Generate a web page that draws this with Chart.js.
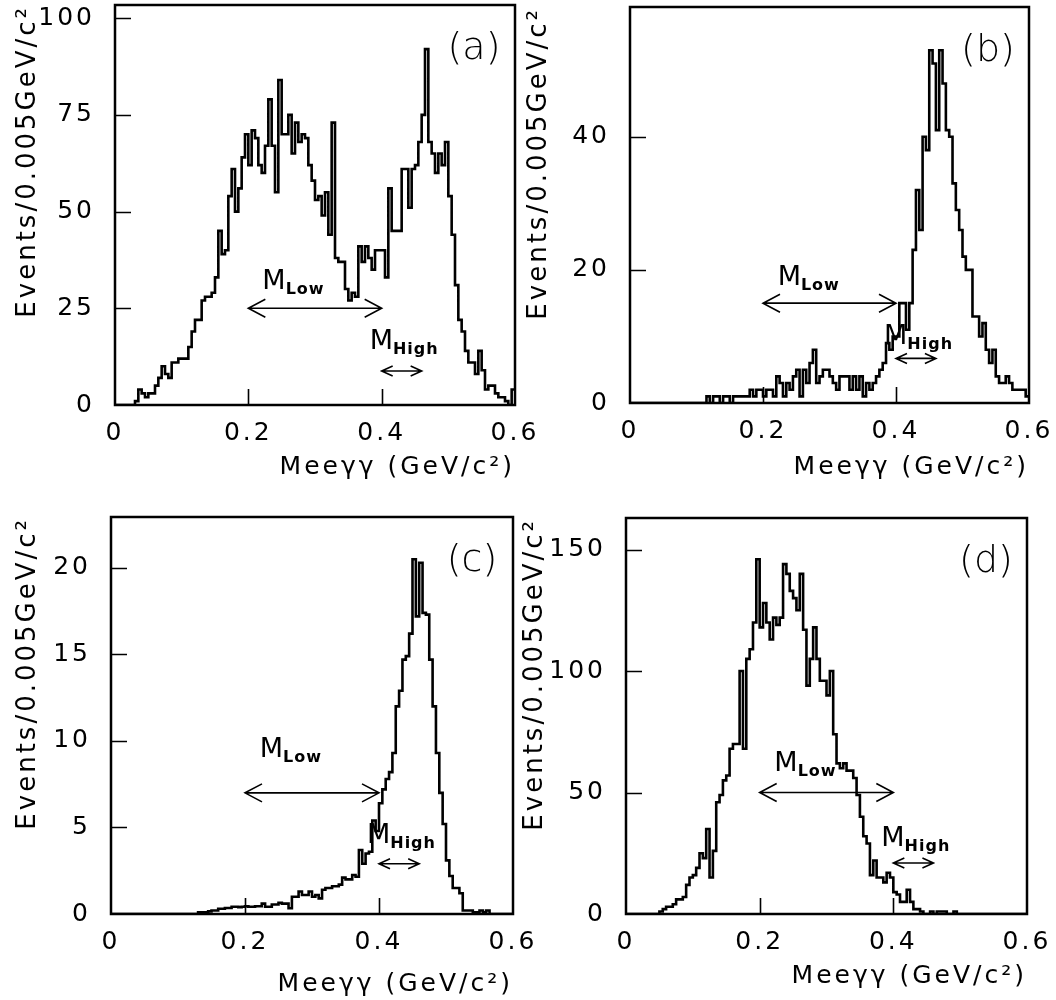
<!DOCTYPE html>
<html>
<head>
<meta charset="utf-8">
<script src="https://cdn.jsdelivr.net/npm/chart.js@4.4.1/dist/chart.umd.min.js"></script>
<style>
  html, body { margin: 0; padding: 0; background: #fff; }
  #wrap { position: relative; width: 1056px; height: 1000px; overflow: hidden; }
  canvas { position: absolute; }
</style>
</head>
<body>
<div id="wrap">
  <canvas id="panelA" width="560" height="500" style="left:0px;top:0px"></canvas>
  <canvas id="panelB" width="556" height="500" style="left:500px;top:0px"></canvas>
  <canvas id="panelC" width="560" height="500" style="left:0px;top:500px"></canvas>
  <canvas id="panelD" width="556" height="500" style="left:500px;top:500px"></canvas>
</div>
<script>
// bins of 0.005 GeV/c^2 from 0 to 0.6
const binWidth = 0.005;
const xTicks = [0, 0.2, 0.4, 0.6];

const countsA = [
  0, 0, 0, 0, 0, 0,   1, 4, 3, 2, 3, 3,   5, 7, 10, 8, 7, 11,
  11, 12, 12, 12, 15, 19,   22, 22, 27, 28, 28, 29,   33, 45, 39, 40, 54, 61,
  50, 56, 64, 70, 62, 71,   69, 62, 60, 67, 79, 67,   55, 84, 70, 70, 75, 65,
  73, 68, 70, 69, 62, 58,   53, 54, 49, 55, 44, 73,   38, 37, 37, 30, 27, 29,
  28, 41, 37, 41, 38, 35,   40, 40, 40, 33, 56, 45,   45, 45, 61, 61, 51, 61,
  62, 68, 75, 92, 68, 65,   60, 65, 62, 68, 54, 44,   31, 22, 19, 14, 11, 11,
  8, 14, 9, 4, 5, 5,   3, 2, 2, 1, 0, 4
];
const countsB = [
  0, 0, 0, 0, 0, 0,   0, 0, 0, 0, 0, 0,   0, 0, 0, 0, 0, 0,
  0, 0, 0, 0, 0, 1,   0, 1, 1, 0, 1, 1,   0, 1, 1, 1, 1, 1,
  2, 1, 2, 2, 1, 2,   2, 1, 4, 3, 1, 3,   2, 4, 5, 1, 5, 3,
  6, 8, 3, 4, 5, 5,   4, 3, 2, 4, 4, 4,   2, 4, 2, 4, 1, 3,
  2, 3, 4, 5, 6, 9,   8, 10, 10, 15, 15, 11,   15, 23, 32, 26, 40, 38,
  53, 51, 41, 53, 48, 41,   40, 33, 29, 26, 22, 20,   20, 13, 13, 10, 12, 8,
  6, 8, 4, 3, 3, 4,   3, 2, 2, 2, 2, 1
];
const countsC = [
  0, 0, 0, 0, 0, 0,   0, 0, 0, 0, 0, 0,   0, 0, 0, 0, 0, 0,
  0, 0, 0, 0, 0, 0,   0, 0, 0.1, 0.1, 0.1, 0.15,   0.2, 0.2, 0.3, 0.3, 0.35, 0.35,
  0.42, 0.42, 0.4, 0.42, 0.45, 0.42,   0.42, 0.45, 0.45, 0.6, 0.42, 0.42,   0.55, 0.55, 0.65, 0.6, 0.6, 0.33,
  1.0, 1.0, 1.3, 1.1, 1.1, 1.3,   1.0, 1.1, 0.9, 1.4, 1.5, 1.5,   1.6, 1.6, 1.7, 2.1, 2.0, 2.0,
  2.25, 2.15, 3.7, 2.9, 3.5, 3.6,   5.4, 4.8, 6.4, 7.2, 7.8, 8.2,   9.3, 12, 12.9, 14.7, 14.9, 16.2,
  20.5, 17.2, 20.3, 17.4, 17.3, 14.7,   12, 9.3, 7, 5.2, 3.1, 2.2,   1.5, 1.5, 1.2, 0.2, 0.2, 0.2,
  0.1, 0.1, 0.2, 0.1, 0.2, 0,   0, 0, 0, 0, 0, 0
];
const countsD = [
  0, 0, 0, 0, 0, 0,   0, 0, 0, 0, 1, 2,   3, 3, 4, 6, 6, 7,
  12, 15, 16, 19, 25, 23,   35, 15, 26, 46, 49, 55,   57, 68, 70, 70, 100, 68,
  105, 109, 120, 146, 118, 128,   120, 113, 122, 119, 122, 144,   140, 133, 130, 125, 140, 117,
  94, 105, 118, 105, 96, 96,   90, 100, 74, 62, 60, 62,   59, 59, 56, 49, 40, 32,
  29, 16, 22, 15, 15, 13,   17, 15, 9, 8, 5, 5,   10, 5, 2, 2, 1, 0,
  0, 1, 0, 1, 1, 1,   0, 0, 1, 0, 0, 0,   0, 0, 0, 0, 0, 0,
  0, 0, 0, 0, 0, 0,   0, 0, 0, 0, 0, 0
];

const yTicksA = [0, 25, 50, 75, 100];
const yTicksB = [0, 20, 40];
const yTicksC = [0, 5, 10, 15, 20];
const yTicksD = [0, 50, 100, 150];

const tickFont = { family: "'DejaVu Sans'", size: 25, weight: "normal" };
const xTitleFont = { family: "'DejaVu Sans'", size: 25, weight: "normal" };
const yTitleFont = { family: "'DejaVu Sans'", size: 26, weight: "normal" };

// pos = canvas box on the page, area = plot frame on the page
const panels = [
  { id: "panelA", tag: "(a)", counts: countsA, yTicks: yTicksA, yMax: 103.4,
    pos: { left: 0, top: 0, width: 560, height: 500 },
    area: { left: 115, right: 515, top: 5, bottom: 405 },
    yTitlePad: 12.5, xTitlePad: 18,
    lowArrow: [0.2, 0.4, 25], lowText: [0.221, 30],
    highArrow: [0.4, 0.46, 8.8], highText: [0.382, 14.5] },
  { id: "panelB", tag: "(b)", counts: countsB, yTicks: yTicksB, yMax: 59.5,
    pos: { left: 500, top: 0, width: 556, height: 500 },
    area: { left: 630, right: 1029, top: 7, bottom: 403 },
    yTitlePad: 23.5, xTitlePad: 18,
    lowArrow: [0.2, 0.4, 15], lowText: [0.222, 17.8],
    highArrow: [0.4, 0.46, 6.7], highText: [0.382, 8.9] },
  { id: "panelC", tag: "(c)", counts: countsC, yTicks: yTicksC, yMax: 22.94,
    pos: { left: 0, top: 500, width: 560, height: 500 },
    area: { left: 111, right: 513, top: 517, bottom: 914 },
    yTitlePad: 12.5, xTitlePad: 1,
    lowArrow: [0.2, 0.4, 7], lowText: [0.222, 9.1],
    highArrow: [0.4, 0.46, 2.9], highText: [0.382, 4.1] },
  { id: "panelD", tag: "(d)", counts: countsD, yTicks: yTicksD, yMax: 163,
    pos: { left: 500, top: 500, width: 556, height: 500 },
    area: { left: 626, right: 1027, top: 518, bottom: 914 },
    yTitlePad: 19.5, xTitlePad: 9,
    lowArrow: [0.2, 0.4, 50], lowText: [0.222, 59],
    highArrow: [0.4, 0.46, 21], highText: [0.382, 28] }
];

// PAW style text is widely spaced
const spacing = {
  id: "spacing",
  beforeUpdate(chart) { chart.ctx.letterSpacing = "3px"; },
  beforeLayout(chart) { chart.ctx.letterSpacing = "3px"; },
  beforeDraw(chart) { chart.ctx.letterSpacing = "3px"; }
};

function arrow(ctx, x1, x2, y, head, spread) {
  ctx.beginPath();
  ctx.moveTo(x1, y);
  ctx.lineTo(x2, y);
  ctx.moveTo(x1 + head, y - spread);
  ctx.lineTo(x1, y);
  ctx.lineTo(x1 + head, y + spread);
  ctx.moveTo(x2 - head, y - spread);
  ctx.lineTo(x2, y);
  ctx.lineTo(x2 - head, y + spread);
  ctx.stroke();
}

function massLabel(ctx, px, py, sub) {
  ctx.letterSpacing = "0px";
  ctx.textAlign = "left";
  ctx.textBaseline = "alphabetic";
  ctx.font = "normal 27px 'DejaVu Sans'";
  ctx.fillText("M", px, py);
  const w = ctx.measureText("M").width;
  ctx.letterSpacing = "1px";
  ctx.font = "bold 16px 'DejaVu Sans'";
  ctx.fillText(sub, px + w, py + 5);
}

function marks(p) {
  return {
    id: "marks",
    afterDatasetsDraw(chart) {
      const { ctx, chartArea: a, scales: { x, y } } = chart;
      ctx.save();
      ctx.strokeStyle = "#000";
      ctx.fillStyle = "#000";
      ctx.lineWidth = 2.5;
      ctx.strokeRect(a.left, a.top, a.right - a.left, a.bottom - a.top);

      // ticks point into the frame
      ctx.lineWidth = 1.6;
      ctx.beginPath();
      y.ticks.forEach(t => {
        if (t.value <= 0) return;
        const py = Math.round(y.getPixelForValue(t.value)) + 0.5;
        ctx.moveTo(a.left, py);
        ctx.lineTo(a.left + 16, py);
      });
      x.ticks.forEach(t => {
        if (t.value <= 0 || t.value >= 0.6) return;
        const px = Math.round(x.getPixelForValue(t.value)) + 0.5;
        ctx.moveTo(px, a.bottom);
        ctx.lineTo(px, a.bottom - 16);
      });
      ctx.stroke();

      ctx.lineWidth = 1.6;
      arrow(ctx, x.getPixelForValue(p.lowArrow[0]), x.getPixelForValue(p.lowArrow[1]),
        y.getPixelForValue(p.lowArrow[2]), 17, 9);
      arrow(ctx, x.getPixelForValue(p.highArrow[0]), x.getPixelForValue(p.highArrow[1]),
        y.getPixelForValue(p.highArrow[2]), 11, 5);
      massLabel(ctx, x.getPixelForValue(p.lowText[0]), y.getPixelForValue(p.lowText[1]), "Low");
      massLabel(ctx, x.getPixelForValue(p.highText[0]), y.getPixelForValue(p.highText[1]), "High");

      ctx.letterSpacing = "0px";
      ctx.font = "200 38px 'DejaVu Sans'";
      ctx.textAlign = "center";
      ctx.textBaseline = "middle";
      ctx.fillText(p.tag, a.right - 41, a.top + 44);
      ctx.restore();
    }
  };
}

function makeChart(p) {
  const canvas = document.getElementById(p.id);
  // each bin value is held from its left edge to the next edge
  const points = p.counts.map((v, i) => ({ x: i * binWidth, y: v }));
  points.push({ x: p.counts.length * binWidth, y: p.counts[p.counts.length - 1] });

  return new Chart(canvas, {
    type: "line",
    data: {
      datasets: [{
        data: points,
        stepped: true,
        borderColor: "#000",
        borderWidth: 2.6,
        pointRadius: 0,
        fill: false
      }]
    },
    options: {
      responsive: false,
      animation: false,
      events: [],
      layout: {
        padding: {
          left: 0,
          top: p.area.top - p.pos.top,
          right: p.pos.left + p.pos.width - p.area.right,
          bottom: 0
        }
      },
      plugins: { legend: { display: false }, tooltip: { enabled: false } },
      scales: {
        x: {
          type: "linear",
          min: 0,
          max: 0.6,
          grid: { display: false, drawTicks: false },
          border: { display: false },
          afterBuildTicks: s => { s.ticks = xTicks.map(v => ({ value: v })); },
          afterFit: s => {
            s.height = p.pos.top + p.pos.height - p.area.bottom;
            s.paddingLeft = 0;
            s.paddingRight = 0;
          },
          ticks: {
            color: "#000",
            font: tickFont,
            padding: 13,
            maxRotation: 0,
            autoSkip: false,
            callback: v => (v === 0 ? "0" : v.toFixed(1))
          },
          title: {
            display: true,
            text: "Meeγγ (GeV/c²)",
            align: "end",
            color: "#000",
            font: xTitleFont,
            padding: { top: 0, bottom: p.xTitlePad }
          }
        },
        y: {
          type: "linear",
          min: 0,
          max: p.yMax,
          grid: { display: false, drawTicks: false },
          border: { display: false },
          afterBuildTicks: s => { s.ticks = p.yTicks.map(v => ({ value: v })); },
          afterFit: s => {
            s.width = p.area.left - p.pos.left;
            s.paddingTop = 0;
            s.paddingBottom = 0;
          },
          ticks: {
            color: "#000",
            font: tickFont,
            padding: 20,
            autoSkip: false,
            callback: v => String(v)
          },
          title: {
            display: true,
            text: "Events/0.005GeV/c²",
            align: "end",
            color: "#000",
            font: yTitleFont,
            padding: { top: p.yTitlePad, bottom: 0 }
          }
        }
      }
    },
    plugins: [spacing, marks(p)]
  });
}

panels.forEach(makeChart);
</script>
</body>
</html>
